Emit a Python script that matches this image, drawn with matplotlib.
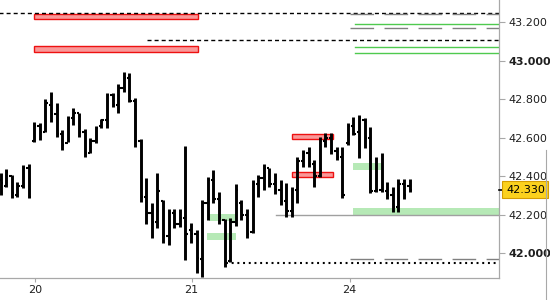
#!/usr/bin/env python3
import matplotlib
matplotlib.use("Agg")
import matplotlib.pyplot as plt
from matplotlib.patches import Rectangle
from matplotlib.transforms import blended_transform_factory

OUT_PATH = "out.png"

# OHLC bars, one per slot, left to right
highs = [42.416, 42.436, 42.405, 42.369, 42.457, 42.462, 42.681, 42.675, 42.800, 42.836,
         42.779, 42.639, 42.712, 42.753, 42.727, 42.644, 42.597, 42.660, 42.696, 42.831,
         42.831, 42.878, 42.940, 42.935, 42.805, 42.592, 42.390, 42.260, 42.416, 42.275,
         42.229, 42.229, 42.229, 42.556, 42.156, 42.119, 42.275, 42.395, 42.431, 42.317,
         42.177, 42.182, 42.358, 42.275, 42.229, 42.379, 42.405, 42.462, 42.442, 42.416,
         42.379, 42.364, 42.343, 42.499, 42.535, 42.551, 42.483, 42.603, 42.623, 42.623,
         42.551, 42.551, 42.675, 42.706, 42.717, 42.701, 42.655, 42.499, 42.519, 42.369,
         42.343, 42.384, 42.384, 42.384]
lows = [42.301, 42.343, 42.286, 42.291, 42.338, 42.286, 42.577, 42.587, 42.629, 42.681,
        42.603, 42.535, 42.577, 42.665, 42.603, 42.499, 42.519, 42.571, 42.649, 42.649,
        42.758, 42.727, 42.836, 42.784, 42.551, 42.265, 42.151, 42.078, 42.130, 42.052,
        42.042, 42.130, 42.135, 41.964, 42.052, 41.896, 41.875, 42.171, 42.260, 42.151,
        41.927, 41.953, 42.140, 42.171, 42.078, 42.104, 42.291, 42.327, 42.343, 42.306,
        42.249, 42.187, 42.187, 42.260, 42.447, 42.447, 42.343, 42.395, 42.551, 42.514,
        42.483, 42.286, 42.561, 42.613, 42.494, 42.545, 42.312, 42.317, 42.317, 42.281,
        42.213, 42.213, 42.281, 42.317]
opens = [42.380, 42.350, 42.400, 42.300, 42.350, 42.440, 42.580, 42.660, 42.630, 42.770,
         42.720, 42.620, 42.570, 42.700, 42.730, 42.630, 42.520, 42.580, 42.660, 42.690,
         42.820, 42.770, 42.860, 42.910, 42.790, 42.580, 42.290, 42.210, 42.160, 42.270,
         42.090, 42.210, 42.150, 42.180, 42.120, 42.100, 41.970, 42.260, 42.380, 42.280,
         42.170, 41.960, 42.160, 42.260, 42.200, 42.110, 42.360, 42.390, 42.440, 42.360,
         42.330, 42.270, 42.220, 42.330, 42.480, 42.520, 42.460, 42.400, 42.580, 42.600,
         42.530, 42.500, 42.570, 42.660, 42.630, 42.690, 42.600, 42.320, 42.330, 42.320,
         42.300, 42.240, 42.360, 42.350]
closes = [42.364, 42.420, 42.310, 42.350, 42.440, 42.290, 42.660, 42.630, 42.780, 42.720,
          42.620, 42.560, 42.700, 42.730, 42.630, 42.520, 42.580, 42.650, 42.690, 42.820,
          42.770, 42.860, 42.910, 42.790, 42.580, 42.290, 42.210, 42.160, 42.320, 42.090,
          42.210, 42.150, 42.180, 42.100, 42.100, 41.974, 42.260, 42.380, 42.280, 42.180,
          41.950, 42.160, 42.330, 42.200, 42.100, 42.360, 42.390, 42.440, 42.360, 42.330,
          42.270, 42.220, 42.330, 42.480, 42.520, 42.460, 42.400, 42.580, 42.600, 42.530,
          42.500, 42.300, 42.660, 42.620, 42.700, 42.600, 42.320, 42.330, 42.320, 42.300,
          42.240, 42.360, 42.300, 42.330]

day_pos = [6.2, 34.1, 62.3]
day_labels = ["20", "21", "24"]

price_ticks = [42.0, 42.2, 42.4, 42.6, 42.8, 43.0, 43.2]
bold_ticks = ["42.000", "43.000"]
last_price = 42.330

# horizontal levels: (price, first slot), all run to the right edge
black_dashed = [(43.250, -1), (43.105, 26.1)]
gray_dashed = [(43.240, 62.3), (43.172, 62.3), (41.969, 62.3)]
green_lines = [(43.188, 63.2), (43.069, 63.2), (43.039, 63.2)]
gray_solid = [(42.196, 49.1)]
black_dotted = [(41.950, 40.3)]

# zones: (first slot, last slot, low, high); None = right edge
red_zones = [(5.9, 35.2, 43.217, 43.242), (5.9, 35.2, 43.043, 43.074),
             (52.1, 59.3, 42.591, 42.618), (52.1, 59.3, 42.393, 42.422)]
green_zones = [(37.3, 41.9, 42.168, 42.203), (36.9, 42.1, 42.068, 42.104),
               (63.0, 68.0, 42.431, 42.468), (63.0, None, 42.197, 42.234)]

XLIM = (-0.09, 88.97)
YLIM = (41.870, 43.315)


def draw_levels(ax):
    right = XLIM[1]
    for p, x0 in black_dashed:
        ax.plot([x0, right], [p, p], color="black", lw=1.0, dashes=(2.9, 2.2), zorder=2)
    for p, x0 in gray_dashed:
        ax.plot([x0, right], [p, p], color="#808080", lw=1.0, dashes=(17, 7.5), zorder=2)
    for p, x0 in green_lines:
        ax.plot([x0, right], [p, p], color="#4fca4f", lw=1.0, zorder=2)
    for p, x0 in gray_solid:
        ax.plot([x0, right], [p, p], color="#a0a0a0", lw=1.0, zorder=2)
    for p, x0 in black_dotted:
        ax.plot([x0, right], [p, p], color="black", lw=1.5, dashes=(1.4, 2.7), zorder=2)


def draw_zones(ax):
    for x0, x1, lo, hi in green_zones:
        x1 = XLIM[1] if x1 is None else x1
        ax.add_patch(Rectangle((x0, lo), x1 - x0, hi - lo, facecolor="#b6e9b6",
                               edgecolor="none", zorder=1))
    for x0, x1, lo, hi in red_zones:
        ax.add_patch(Rectangle((x0, lo), x1 - x0, hi - lo, facecolor="#f99898",
                               edgecolor="#ee1111", lw=1.0, zorder=1))


def draw_bars(ax):
    xs = list(range(len(highs)))
    ax.vlines(xs, lows, highs, color="black", lw=2.1, zorder=3)
    ax.hlines(opens, [x - 0.42 for x in xs], xs, color="black", lw=1.5, zorder=3)
    ax.hlines(closes, xs, [x + 0.42 for x in xs], color="black", lw=1.5, zorder=3)


def main():
    plt.rcParams["lines.scale_dashes"] = False
    plt.rcParams["font.family"] = ["DejaVu Sans"]

    fig = plt.figure(figsize=(5.5, 3), dpi=100)
    ax = fig.add_axes([0, 22 / 300, 499 / 550, 278 / 300])

    draw_zones(ax)
    draw_levels(ax)
    draw_bars(ax)

    ax.set_xlim(*XLIM)
    ax.set_ylim(*YLIM)

    for s in ("top", "left"):
        ax.spines[s].set_visible(False)
    for s in ("bottom", "right"):
        ax.spines[s].set_color("#a8a8a8")
        ax.spines[s].set_linewidth(0.9)

    ax.yaxis.tick_right()
    ax.set_yticks(price_ticks, ["%.3f" % t for t in price_ticks])
    ax.set_xticks(day_pos, day_labels)
    ax.tick_params(axis="y", length=4, width=0.8, color="#a8a8a8", pad=3,
                   labelsize=8, labelcolor="#1e1e1e")
    ax.tick_params(axis="x", length=3, width=0.8, color="#a8a8a8", pad=2,
                   labelsize=8, labelcolor="#1e1e1e")
    for lab in ax.get_yticklabels():
        if lab.get_text() in bold_ticks:
            lab.set_fontweight("bold")

    # last price marker
    tr = blended_transform_factory(ax.transAxes, ax.transData)
    ax.plot([1.0, 1.008], [last_price, last_price], color="black", lw=1.2,
            transform=tr, clip_on=False, zorder=5)
    ax.text(1.014, last_price, "%.3f" % last_price, transform=tr, fontsize=8,
            color="black", va="center", ha="left", zorder=6,
            bbox=dict(boxstyle="square,pad=0.32", facecolor="#fbd11e",
                      edgecolor="#d49c00", lw=0.8))

    # splitter on the right
    fig.add_artist(plt.Line2D([545.5 / 550, 545.5 / 550], [0, 0.5], color="#a8a8a8",
                              lw=0.8, transform=fig.transFigure))

    fig.savefig(OUT_PATH, dpi=100)
    plt.close(fig)


if __name__ == "__main__":
    main()
